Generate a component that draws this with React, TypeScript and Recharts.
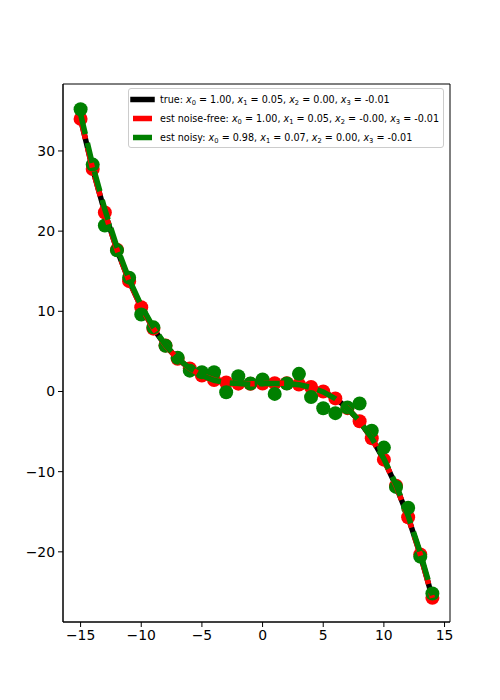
import React from 'react';
import { ComposedChart, Line, Scatter, XAxis, YAxis, ReferenceArea, Legend } from 'recharts';

const xs = [-15, -14, -13, -12, -11, -10, -9, -8, -7, -6, -5, -4, -3, -2, -1, 0, 1, 2, 3, 4, 5, 6, 7, 8, 9, 10, 11, 12, 13, 14];
const trueY = [34.0, 27.74, 22.32, 17.68, 13.76, 10.5, 7.84, 5.72, 4.08, 2.86, 2.0, 1.44, 1.12, 0.98, 0.96, 1.0, 1.04, 1.02, 0.88, 0.56, 0.0, -0.86, -2.08, -3.72, -5.84, -8.5, -11.76, -15.68, -20.32, -25.74];
const noiseFreeY = [34.0, 27.74, 22.32, 17.68, 13.76, 10.5, 7.84, 5.72, 4.08, 2.86, 2.0, 1.44, 1.12, 0.98, 0.96, 1.0, 1.04, 1.02, 0.88, 0.56, 0.0, -0.86, -2.08, -3.72, -5.84, -8.5, -11.76, -15.68, -20.32, -25.74];
const noisyY = [35.2, 28.3, 20.7, 17.6, 14.2, 9.6, 8.0, 5.7, 4.2, 2.6, 2.4, 2.4, -0.1, 1.9, 1.0, 1.5, -0.3, 1.0, 2.2, -0.7, -2.1, -2.7, -2.0, -1.5, -4.9, -7.0, -11.9, -14.5, -20.6, -25.2];
const estNoiseFreeY = [34.0, 27.74, 22.32, 17.68, 13.76, 10.5, 7.84, 5.72, 4.08, 2.86, 2.0, 1.44, 1.12, 0.98, 0.96, 1.0, 1.04, 1.02, 0.88, 0.56, 0.0, -0.86, -2.08, -3.72, -5.84, -8.5, -11.76, -15.68, -20.32, -25.74];
const estNoisyY = [34.6, 28.2, 22.7, 18.0, 14.0, 10.7, 8.0, 5.8, 4.1, 2.9, 2.0, 1.4, 1.1, 1.0, 0.9, 1.0, 1.0, 1.0, 0.85, 0.5, -0.05, -0.9, -2.1, -3.7, -5.8, -8.4, -11.6, -15.5, -20.1, -25.4];

const xTicks = [-15, -10, -5, 0, 5, 10, 15];
const yTicks = [-20, -10, 0, 10, 20, 30];
const xDomain: [number, number] = [-16.45, 15.45];
const yDomain: [number, number] = [-28.75, 38.35];

const legendRows = [
  { color: '#000000', name: 'true:', coefs: ['1.00', '0.05', '0.00', '-0.01'] },
  { color: '#ff0000', name: 'est noise-free:', coefs: ['1.00', '0.05', '-0.00', '-0.01'] },
  { color: '#008000', name: 'est noisy:', coefs: ['0.98', '0.07', '0.00', '-0.01'] },
];

const toSeries = (ys: number[]) => xs.map((x, i) => ({ x, y: ys[i] }));

const fmt = (v: number) => String(v).replace('-', '\u2212');

const FONT = 'DejaVu Sans, sans-serif';

const LegendBox = () => (
  <div
    style={{
      border: '1px solid #cccccc',
      borderRadius: 3,
      background: 'rgba(255,255,255,0.8)',
      fontFamily: FONT,
      fontSize: 9.6,
      color: '#000',
      paddingTop: 1,
      boxSizing: 'border-box',
      width: 316,
      height: 60,
    }}
  >
    {legendRows.map((r) => (
      <div key={r.name} style={{ display: 'flex', alignItems: 'center', height: 19, whiteSpace: 'nowrap' }}>
        <svg width={30} height={19} style={{ flex: 'none' }}>
          <line x1={4} x2={23} y1={9.5} y2={9.5} stroke={r.color} strokeWidth={5.5} strokeLinecap={r.color === '#000000' ? 'square' : 'butt'} />
        </svg>
        <span style={{ marginLeft: 1 }}>
          {r.name}{' '}
          {r.coefs.map((c, i) => (
            <span key={i}>
              <i>x</i>
              <sub style={{ fontSize: '0.7em', lineHeight: 0, verticalAlign: '-0.3em' }}>{i}</sub>
              {' = '}{c}{i < 3 ? ', ' : ''}
            </span>
          ))}
        </span>
      </div>
    ))}
  </div>
);

const dot = (color: string) => (p: any) => <circle cx={p.cx} cy={p.cy} r={7} fill={color} />;

export default function App() {
  return (
    <div style={{ position: 'absolute', left: 0, top: 0, width: 500, height: 700, background: '#fff' }}>
      <ComposedChart width={500} height={700} margin={{ top: 84, right: 50, bottom: 48, left: 23 }}>
        <XAxis
          dataKey="x"
          type="number"
          domain={xDomain}
          ticks={xTicks}
          allowDataOverflow
          tickFormatter={fmt}
          stroke="#000"
          tickSize={5}
          tickMargin={3}
          height={30}
          tick={{ fill: '#000', fontSize: 13.9, fontFamily: FONT }}
          tickLine={{ stroke: '#000' }}
          axisLine={{ stroke: '#000' }}
        />
        <YAxis
          dataKey="y"
          type="number"
          domain={yDomain}
          ticks={yTicks}
          allowDataOverflow
          tickFormatter={fmt}
          stroke="#000"
          tickSize={5}
          tickMargin={3}
          width={40}
          tick={{ fill: '#000', fontSize: 13.9, fontFamily: FONT }}
          tickLine={{ stroke: '#000' }}
          axisLine={{ stroke: '#000' }}
        />
        <ReferenceArea x1={xDomain[0]} x2={xDomain[1]} y1={yDomain[0]} y2={yDomain[1]} fill="none" stroke="#000" strokeWidth={1} />
        <Line {...({ zIndex: 300 } as any)} data={toSeries(trueY)} dataKey="y" stroke="#000000" strokeWidth={5.5} dot={false} isAnimationActive={false} type="linear" />
        <Scatter {...({ zIndex: 350 } as any)} data={toSeries(noiseFreeY)} dataKey="y" fill="#ff0000" shape={dot('#ff0000')} isAnimationActive={false} />
        <Scatter {...({ zIndex: 360 } as any)} data={toSeries(noisyY)} dataKey="y" fill="#008000" shape={dot('#008000')} isAnimationActive={false} />
        <Line {...({ zIndex: 400 } as any)} data={toSeries(estNoiseFreeY)} dataKey="y" stroke="#ff0000" strokeWidth={5.5} strokeDasharray="20.6 8.9" dot={false} isAnimationActive={false} type="linear" />
        <Line {...({ zIndex: 410 } as any)} data={toSeries(estNoisyY)} dataKey="y" stroke="#008000" strokeWidth={5.5} strokeDasharray="20.6 8.9" dot={false} isAnimationActive={false} type="linear" />
        <Legend
          layout="horizontal"
          verticalAlign="middle"
          align="center"
          wrapperStyle={{ position: 'absolute', left: 128, top: 88, width: 316, height: 60 }}
          content={() => <LegendBox />}
        />
      </ComposedChart>
    </div>
  );
}
